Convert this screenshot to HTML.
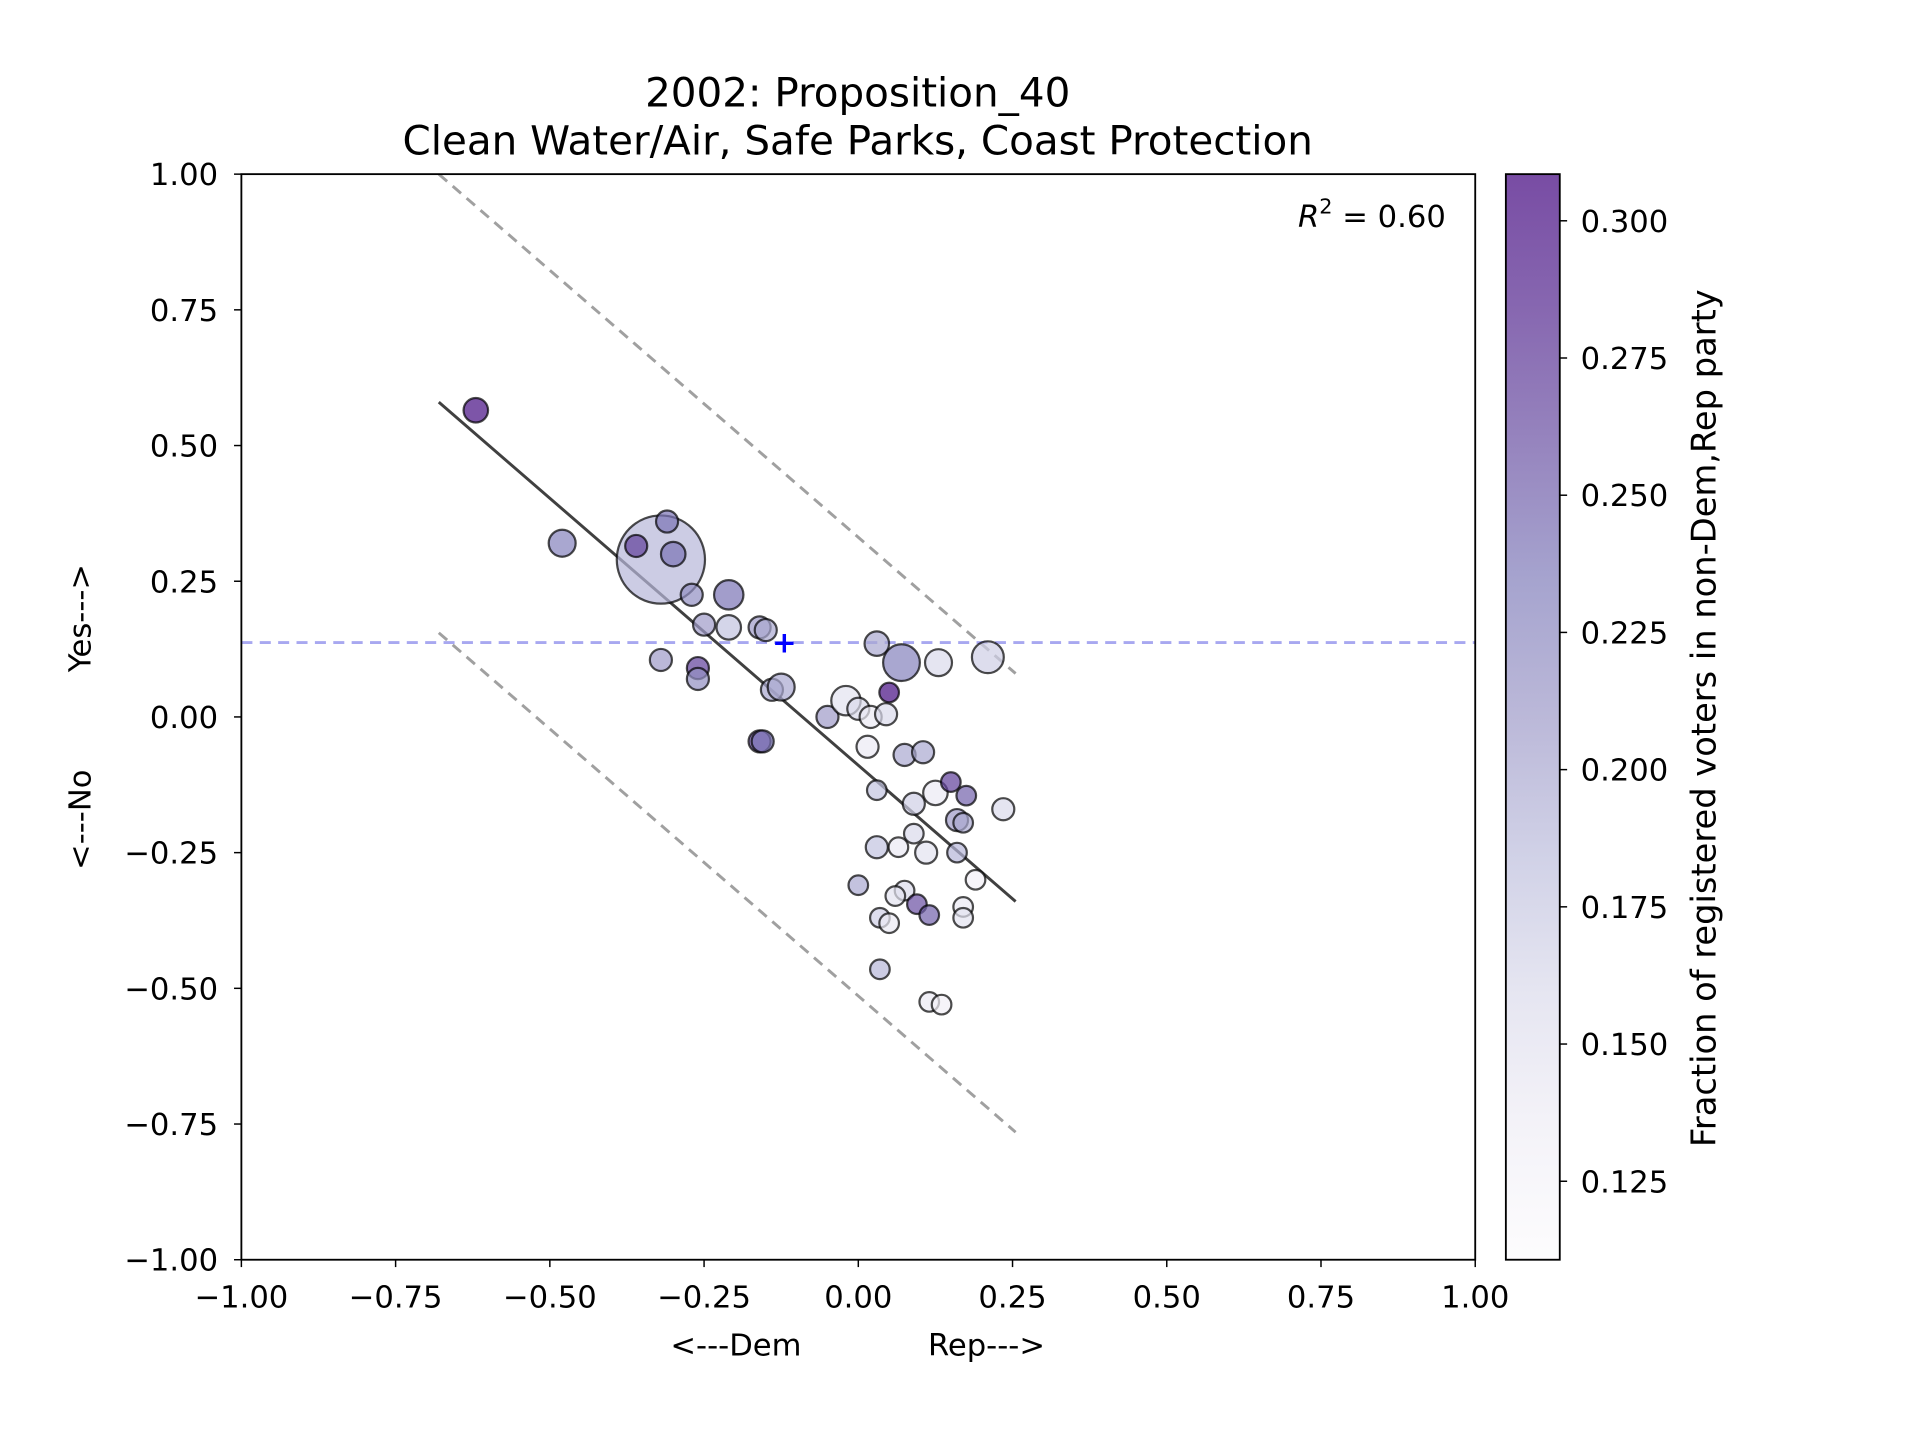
<!DOCTYPE html>
<html><head><meta charset="utf-8"><style>
html,body{margin:0;padding:0;background:#fff;}
svg{display:block;font-family:"DejaVu Sans","Liberation Sans",sans-serif;}
text{white-space:pre;}
</style></head><body>
<svg id="chart" width="1920" height="1440" viewBox="0 0 1567 1175" xmlns="http://www.w3.org/2000/svg" xml:space="preserve">
<defs>
<linearGradient id="cbgrad" x1="0" y1="1" x2="0" y2="0">
<stop offset="0" stop-color="#fcfbfd"/><stop offset="0.125" stop-color="#efedf5"/><stop offset="0.25" stop-color="#dadaeb"/><stop offset="0.375" stop-color="#bcbddc"/><stop offset="0.5" stop-color="#9e9ac8"/><stop offset="0.625" stop-color="#807dba"/><stop offset="0.75" stop-color="#6a51a3"/><stop offset="0.875" stop-color="#54278f"/><stop offset="1" stop-color="#3f007d"/>
</linearGradient>
<clipPath id="axclip"><rect x="197" y="142" width="1007" height="886"/></clipPath>
</defs>
<text x="700" y="87" font-size="33" text-anchor="middle">2002: Proposition_40</text>
<text x="700" y="126" font-size="33" text-anchor="middle">Clean Water/Air, Safe Parks, Coast Protection</text>
<g id="plot" clip-path="url(#axclip)"></g>
<rect x="197" y="142" width="1007" height="886" fill="none" stroke="#000" stroke-width="1.5"/>
<g id="axes"></g>
<text x="1180" y="185" font-size="25" text-anchor="end"><tspan font-style="italic">R</tspan><tspan font-size="17" dy="-11">2</tspan><tspan dy="11"> = 0.60</tspan></text>
<text x="700" y="1106" font-size="25" text-anchor="middle">&lt;---Dem             Rep---&gt;</text>
<text transform="translate(74,585) rotate(-90)" font-size="25" text-anchor="middle">&lt;---No          Yes---&gt;</text>
<rect x="1229" y="142" width="44" height="886" fill="url(#cbgrad)" fill-opacity="0.7"/>
<rect x="1229" y="142" width="44" height="886" fill="none" stroke="#000" stroke-width="1.5"/>
<g id="cbaxis"></g>
<text transform="translate(1400,586) rotate(-90)" font-size="27.5" text-anchor="middle">Fraction of registered voters in non-Dem,Rep party</text>
</svg>
<script>
const xs=[-0.32,-0.62,-0.48,-0.36,-0.31,-0.30,-0.27,-0.21,-0.25,-0.21,-0.16,-0.15,-0.32,-0.26,-0.26,-0.14,-0.125,-0.16,-0.155,-0.05,-0.02,0.0,0.02,0.045,0.03,0.07,0.13,0.21,0.05,0.015,0.075,0.105,0.03,0.09,0.125,0.15,0.175,0.16,0.17,0.235,0.03,0.065,0.09,0.11,0.16,0.19,0.0,0.075,0.06,0.035,0.05,0.095,0.115,0.17,0.17,0.035,0.115,0.135];
const ys=[0.29,0.565,0.32,0.315,0.36,0.30,0.225,0.225,0.17,0.165,0.165,0.16,0.105,0.09,0.07,0.05,0.055,-0.045,-0.045,0.0,0.03,0.015,0.0,0.005,0.135,0.10,0.10,0.11,0.045,-0.055,-0.07,-0.065,-0.135,-0.16,-0.14,-0.12,-0.145,-0.19,-0.195,-0.17,-0.24,-0.24,-0.215,-0.25,-0.25,-0.30,-0.31,-0.32,-0.33,-0.37,-0.38,-0.345,-0.365,-0.35,-0.37,-0.465,-0.525,-0.53];
const sizes=[36,10,11,9,9,10,9,12,9,10,9,9,9,9,9,9,11,9,9,9,12,9,9,9,10,15,11,13,8,9,9,9,8,9,10,8,8,9,8,9,9,8,8,9,8,8,8,8,8,8,8,8,8,8,8,8,8,8];
const fracs=[0.19,0.30,0.23,0.27,0.24,0.24,0.22,0.24,0.21,0.18,0.21,0.20,0.21,0.27,0.22,0.20,0.20,0.26,0.24,0.21,0.15,0.16,0.14,0.16,0.20,0.23,0.16,0.17,0.30,0.14,0.20,0.20,0.18,0.17,0.14,0.27,0.25,0.21,0.20,0.16,0.18,0.14,0.16,0.15,0.19,0.13,0.20,0.16,0.15,0.17,0.14,0.26,0.25,0.14,0.15,0.19,0.14,0.13];
const fitLine=[[-0.68,0.58],[0.255,-0.34]];
const upperBand=[[-0.68,1.0],[0.255,0.08]];
const lowerBand=[[-0.68,0.155],[0.255,-0.765]];
const meanY=0.137, meanX=-0.12;
const axisTicks=[-1,-0.75,-0.5,-0.25,0,0.25,0.5,0.75,1];
const cbTicks=[0.125,0.15,0.175,0.2,0.225,0.25,0.275,0.3];
const cbMin=0.1107, cbMax=0.3085;

const NS="http://www.w3.org/2000/svg";
const X=v=>197+(v+1)/2*1007;
const Y=v=>1028-(v+1)/2*886;
const CY=v=>1028-(v-cbMin)/(cbMax-cbMin)*886;
function mk(tag,attrs,parent){const e=document.createElementNS(NS,tag);for(const k in attrs)e.setAttribute(k,attrs[k]);parent.appendChild(e);return e;}
const stops=["#fcfbfd","#efedf5","#dadaeb","#bcbddc","#9e9ac8","#807dba","#6a51a3","#54278f","#3f007d"].map(h=>[parseInt(h.slice(1,3),16),parseInt(h.slice(3,5),16),parseInt(h.slice(5,7),16)]);
function cmap(v){let t=Math.max(0,Math.min(1,(v-cbMin)/(cbMax-cbMin)))*8;const i=Math.min(7,Math.floor(t)),f=t-i;const c=stops[i].map((a,k)=>Math.round(a+(stops[i+1][k]-a)*f));return `rgb(${c})`;}
const plot=document.getElementById('plot');
function line(p,stroke,dash,name){const l=mk('line',{x1:X(p[0][0]),y1:Y(p[0][1]),x2:X(p[1][0]),y2:Y(p[1][1]),stroke:stroke,'stroke-width':2.4},plot);if(dash)l.setAttribute('stroke-dasharray',dash);

}
line(upperBand,'#a0a0a0','9,6','upper-band-line');
line(lowerBand,'#a0a0a0','9,6','lower-band-line');
const h=mk('line',{x1:197,x2:1204,y1:Y(meanY),y2:Y(meanY),stroke:'#a8a8f0','stroke-width':2.4,'stroke-dasharray':'9,6'},plot);


line(fitLine,'#404040',null,'regression-line');
xs.forEach((x,i)=>{const c=mk('circle',{cx:X(x),cy:Y(ys[i]),r:sizes[i],fill:cmap(fracs[i]),'fill-opacity':0.7,stroke:'#000','stroke-opacity':0.7,'stroke-width':1.8},plot);

});
const pl=mk('text',{x:X(meanX),y:Y(meanY)+8,'font-size':24,'font-weight':'bold',fill:'#0000ff','text-anchor':'middle'},plot);pl.textContent='+';


const ax=document.getElementById('axes');
const fmt=v=>(v<0?'\u2212':'')+Math.abs(v).toFixed(2);
axisTicks.forEach(v=>{
 mk('line',{x1:X(v),x2:X(v),y1:1028,y2:1034,stroke:'#000','stroke-width':1.2},ax);
 const t=mk('text',{x:X(v),y:1067,'font-size':25,'text-anchor':'middle'},ax);t.textContent=fmt(v);
 
 
 mk('line',{x1:191,x2:197,y1:Y(v),y2:Y(v),stroke:'#000','stroke-width':1.2},ax);
 const u=mk('text',{x:178,y:Y(v)+9,'font-size':25,'text-anchor':'end'},ax);u.textContent=fmt(v);
 
 
});
const cb=document.getElementById('cbaxis');
cbTicks.forEach(v=>{
 mk('line',{x1:1273,x2:1279,y1:CY(v),y2:CY(v),stroke:'#000','stroke-width':1.2},cb);
 const t=mk('text',{x:1290,y:CY(v)+9,'font-size':25},cb);t.textContent=v.toFixed(3);
 
 
});
</script>
</body></html>
